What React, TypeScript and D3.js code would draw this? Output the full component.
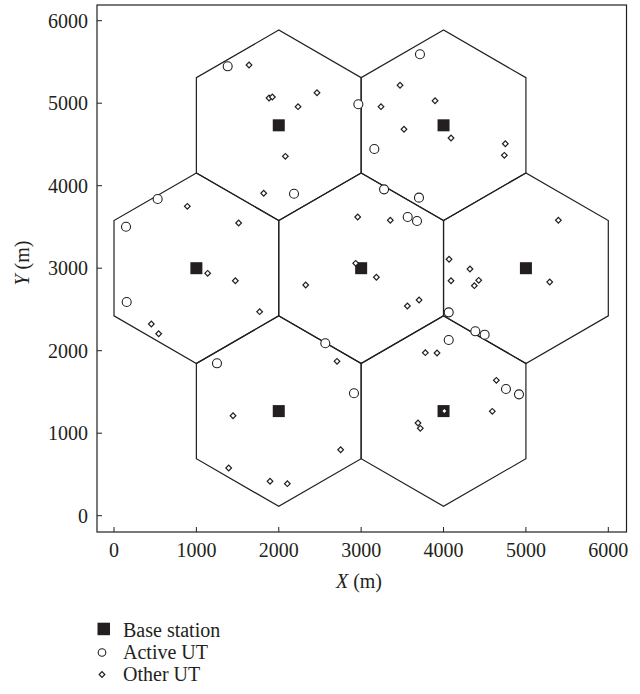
import React, { useEffect, useRef } from 'react';
import * as d3 from 'd3';

// base station positions (m)
const baseStations: [number, number][] = [
  [2000, 4732], [4000, 4732],
  [1000, 3000], [3000, 3000], [5000, 3000],
  [2000, 1268], [4000, 1268],
];

// active user terminals
const activeUT: [number, number][] = [
  [1380, 5447], [2966, 4987], [2185, 3903], [530, 3839], [146, 3503],
  [3714, 5593], [3160, 4445], [3278, 3956], [3702, 3855], [3565, 3621],
  [3678, 3572], [154, 2590], [2565, 2090], [1250, 1847], [2913, 1484],
  [4063, 2465], [4386, 2235], [4499, 2194], [4063, 2130], [4758, 1536],
  [4916, 1471],
];

// other user terminals
const otherUT: [number, number][] = [
  [1639, 5463], [1882, 5063], [1922, 5075], [2234, 4958], [2464, 5127],
  [2080, 4356], [1817, 3908], [890, 3750], [1513, 3548], [2958, 3621],
  [3472, 5217], [3897, 5030], [3241, 4958], [3520, 4684], [4091, 4578],
  [4750, 4509], [4738, 4368], [3354, 3581], [5394, 3581],
  [1137, 2938], [1473, 2848], [2934, 3059], [2327, 2796], [1768, 2473],
  [453, 2324], [542, 2206], [2707, 1871], [1445, 1212], [2751, 800],
  [1392, 578], [1894, 417], [2104, 388],
  [3185, 2890], [4067, 3108], [4321, 2990], [4091, 2848], [4427, 2853],
  [4374, 2788], [5289, 2833], [3561, 2542], [3703, 2614],
  [3779, 1976], [3921, 1972], [4641, 1641], [4592, 1265], [3690, 1124],
  [3718, 1059], [4010, 1268],
];

const ticks = [0, 1000, 2000, 3000, 4000, 5000, 6000];
const legendItems = ['Base station', 'Active UT', 'Other UT'];

const cellRadius = 2000 / Math.sqrt(3);
const ink = '#231f20';
const font = '"Liberation Serif", "Times New Roman", serif';

const App = () => {
  const svgRef = useRef<SVGSVGElement>(null);

  useEffect(() => {
    const svg = d3.select(svgRef.current);
    svg.selectAll('*').remove();

    const x = d3.scaleLinear().domain([0, 6000]).range([114, 608.3]);
    const y = d3.scaleLinear().domain([0, 6000]).range([515.7, 20.7]);
    const left = 97, right = 626.5, top = 5, bottom = 532;

    // frame
    svg.append('rect')
      .attr('x', left).attr('y', top)
      .attr('width', right - left).attr('height', bottom - top)
      .attr('fill', 'none').attr('stroke', ink).attr('stroke-width', 1.2);

    // inward ticks
    svg.selectAll('.xt').data(ticks).enter().append('line')
      .attr('x1', (d) => x(d)).attr('x2', (d) => x(d))
      .attr('y1', bottom).attr('y2', bottom - 5)
      .attr('stroke', ink).attr('stroke-width', 1);
    svg.selectAll('.yt').data(ticks).enter().append('line')
      .attr('y1', (d) => y(d)).attr('y2', (d) => y(d))
      .attr('x1', left).attr('x2', left + 5)
      .attr('stroke', ink).attr('stroke-width', 1);

    svg.selectAll('.xl').data(ticks).enter().append('text')
      .attr('x', (d) => x(d)).attr('y', 557)
      .attr('text-anchor', 'middle')
      .style('font-family', font).style('font-size', '20px').attr('fill', ink)
      .text((d) => d);
    svg.selectAll('.yl').data(ticks).enter().append('text')
      .attr('x', 88).attr('y', (d) => y(d) + 7)
      .attr('text-anchor', 'end')
      .style('font-family', font).style('font-size', '20px').attr('fill', ink)
      .text((d) => d);

    const xLab = svg.append('text')
      .attr('x', 359).attr('y', 588).attr('text-anchor', 'middle')
      .style('font-family', font).style('font-size', '20px').attr('fill', ink);
    xLab.append('tspan').style('font-style', 'italic').text('X');
    xLab.append('tspan').text(' (m)');

    const yLab = svg.append('text')
      .attr('transform', 'translate(29,263) rotate(-90)').attr('text-anchor', 'middle')
      .style('font-family', font).style('font-size', '20px').attr('fill', ink);
    yLab.append('tspan').style('font-style', 'italic').text('Y');
    yLab.append('tspan').text(' (m)');

    // hexagonal cells
    const hexPoints = (c: [number, number]) =>
      d3.range(6).map((i) => {
        const a = Math.PI / 2 + (i * Math.PI) / 3;
        return [x(c[0] + cellRadius * Math.cos(a)), y(c[1] + cellRadius * Math.sin(a))] as [number, number];
      });
    const line = d3.line().curve(d3.curveLinearClosed);
    svg.selectAll('.hex').data(baseStations).enter().append('path')
      .attr('d', (d) => line(hexPoints(d)))
      .attr('fill', 'none').attr('stroke', ink).attr('stroke-width', 1.2);

    // markers
    svg.selectAll('.bs').data(baseStations).enter().append('rect')
      .attr('x', (d) => x(d[0]) - 6).attr('y', (d) => y(d[1]) - 6)
      .attr('width', 12).attr('height', 12).attr('fill', ink);

    svg.selectAll('.act').data(activeUT).enter().append('circle')
      .attr('cx', (d) => x(d[0])).attr('cy', (d) => y(d[1])).attr('r', 4.5)
      .attr('fill', 'white').attr('stroke', ink).attr('stroke-width', 1.1);

    const diamond = d3.symbol(d3.symbolSquare, 16)();
    svg.selectAll('.oth').data(otherUT).enter().append('path')
      .attr('d', diamond)
      .attr('transform', (d) => `translate(${x(d[0])},${y(d[1])}) rotate(45)`)
      .attr('fill', 'white').attr('stroke', ink).attr('stroke-width', 1.2);

    // legend
    const lg = svg.append('g');
    legendItems.forEach((name, i) => {
      const cy = 629 + i * 22;
      if (i === 0) {
        lg.append('rect').attr('x', 97.5).attr('y', cy - 6.3).attr('width', 12.5).attr('height', 12.5).attr('fill', ink);
      } else if (i === 1) {
        lg.append('circle').attr('cx', 102).attr('cy', cy + 1.5).attr('r', 3.8)
          .attr('fill', 'white').attr('stroke', ink).attr('stroke-width', 1.1);
      } else {
        lg.append('path').attr('d', diamond)
          .attr('transform', `translate(102,${cy + 1.5}) rotate(45)`)
          .attr('fill', 'white').attr('stroke', ink).attr('stroke-width', 1.2);
      }
      lg.append('text').attr('x', 123).attr('y', cy + 7.5)
        .style('font-family', font).style('font-size', '20px').attr('fill', ink)
        .text(name);
    });
  }, []);

  return (
    <svg ref={svgRef} width={640} height={694}
      style={{ position: 'absolute', left: 0, top: 0, background: 'white' }} />
  );
};

export default App;
